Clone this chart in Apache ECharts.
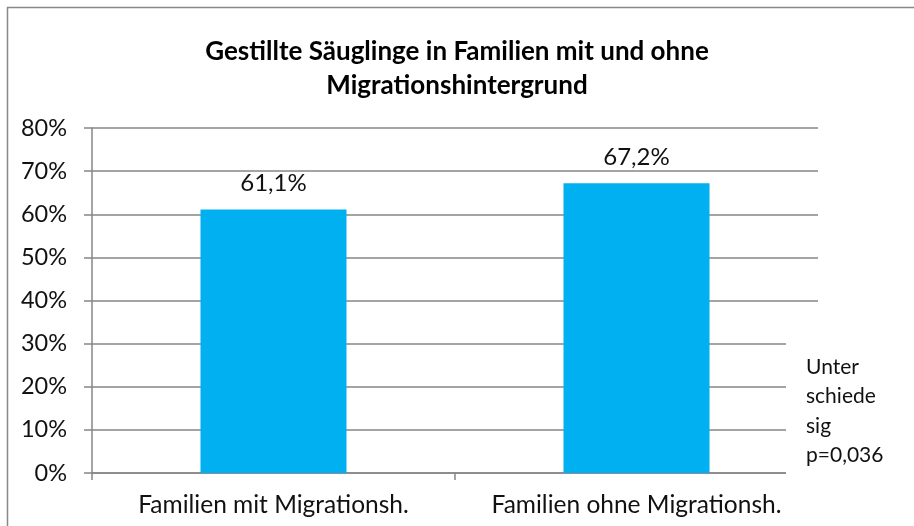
<!DOCTYPE html>
<html><head><meta charset="utf-8">
<script src="https://cdn.jsdelivr.net/npm/echarts@6/dist/echarts.min.js"></script>
<style>html,body{margin:0;padding:0;background:#fff}#c{width:914px;height:526px}</style>
</head><body><div id="c"></div>
<script>
const categories = ['Familien mit Migrationsh.', 'Familien ohne Migrationsh.'];
const values = [0.611, 0.672];
const valueLabels = ['61,1%', '67,2%'];
const titleText = 'Gestillte Säuglinge in Familien mit und ohne\nMigrationshintergrund';
const noteLines = ['Unter', 'schiede', 'sig', 'p=0,036'];
const FONT = 'Lato, "Open Sans", sans-serif';

const chart = echarts.init(document.getElementById('c'));
chart.setOption({
  animation: false,
  title: {
    text: titleText, left: 'center', top: 30,
    textStyle: {fontFamily: FONT, fontWeight: 'bold', fontSize: 26, color: '#000', lineHeight: 34}
  },
  grid: {left: 92, right: 96, top: 128, bottom: 53},
  xAxis: {
    type: 'category', data: categories,
    axisLine: {lineStyle: {color: '#868686', width: 1.5}},
    axisTick: {show: true, length: 7, alignWithLabel: false, lineStyle: {color: '#868686', width: 1.5}},
    axisLabel: {interval: 0, hideOverlap: false, fontFamily: FONT, fontSize: 24.5, color: '#111', margin: 20}
  },
  yAxis: {
    type: 'value', min: 0, max: 0.8, interval: 0.1,
    axisLine: {show: true, lineStyle: {color: '#868686', width: 1.5}},
    axisTick: {show: true, length: 8, lineStyle: {color: '#868686', width: 1.5}},
    splitLine: {lineStyle: {color: '#868686', width: 1.5}},
    axisLabel: {fontFamily: FONT, fontSize: 23.5, color: '#111', margin: 25,
      formatter: v => Math.round(v * 100) + '%'}
  },
  series: [{
    type: 'bar', data: values, barWidth: 146,
    itemStyle: {color: '#00B0F0'},
    label: {show: true, position: 'top', distance: 14, fontFamily: FONT, fontSize: 24, color: '#111',
      formatter: p => valueLabels[p.dataIndex]}
  }],
  graphic: [
    {type: 'rect', shape: {x: 7.5, y: 7.5, width: 930, height: 540}, style: {fill: 'none', stroke: '#888', lineWidth: 1.5}, z: 100},
    {type: 'rect', shape: {x: 786, y: 338, width: 120, height: 150}, style: {fill: '#fff'}, z: 50},
    {type: 'text', left: 806, top: 352, z: 60,
      style: {text: noteLines.join('\n'), fontFamily: FONT, fontSize: 21, lineHeight: 29.5, fill: '#111'}}
  ]
});
</script></body></html>
